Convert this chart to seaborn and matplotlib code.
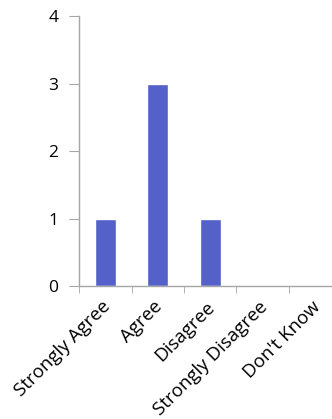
import matplotlib
matplotlib.use("Agg")
import matplotlib.pyplot as plt
import matplotlib.transforms as mtransforms
import seaborn as sns
import pandas as pd

categories = ["Strongly Agree", "Agree", "Disagree", "Strongly Disagree", "Don't Know"]
counts = [1, 3, 1, 0, 0]
y_ticks = [0, 1, 2, 3, 4]

sns.set_style("white")
plt.rcParams["font.family"] = ["Open Sans", "DejaVu Sans"]
plt.rcParams["text.color"] = "black"
plt.rcParams["xtick.color"] = "black"
plt.rcParams["ytick.color"] = "black"

df = pd.DataFrame({"response": categories, "count": counts})

W, H = 332, 419
fig = plt.figure(figsize=(W / 100, H / 100), dpi=100)
ax = fig.add_axes([79 / W, (H - 286) / H, 262.5 / W, 270 / H])

sns.barplot(data=df, x="response", y="count", color="#5461C8", width=0.4,
            saturation=1, ax=ax, order=categories)

ax.set_xlim(-0.5, 4.5)
ax.set_ylim(0, 4)
ax.set_yticks(y_ticks)
ax.set_xlabel("")
ax.set_ylabel("")

axis_color = "#A6A6A6"
for side in ("top", "right"):
    ax.spines[side].set_visible(False)
for side in ("left", "bottom"):
    ax.spines[side].set_color(axis_color)
    ax.spines[side].set_linewidth(1)

# category boundary ticks on the x axis
ax.set_xticks([i - 0.5 for i in range(len(categories) + 1)], minor=True)
ax.tick_params(axis="x", which="minor", length=5, color=axis_color,
               direction="out", bottom=True)
ax.tick_params(axis="x", which="major", length=0, pad=13, bottom=True)
ax.tick_params(axis="y", length=7, color=axis_color, direction="out", pad=8,
               labelsize=12.5, left=True)

ax.set_xticks(range(len(categories)))
ax.set_xticklabels(categories, rotation=45, ha="right", rotation_mode="anchor",
                   va="center", fontsize=13.5)
shift = mtransforms.ScaledTranslation(2 / 100, 0, fig.dpi_scale_trans)
for lbl in ax.get_xticklabels():
    lbl.set_transform(lbl.get_transform() + shift)

fig.savefig("out.png", dpi=100)
